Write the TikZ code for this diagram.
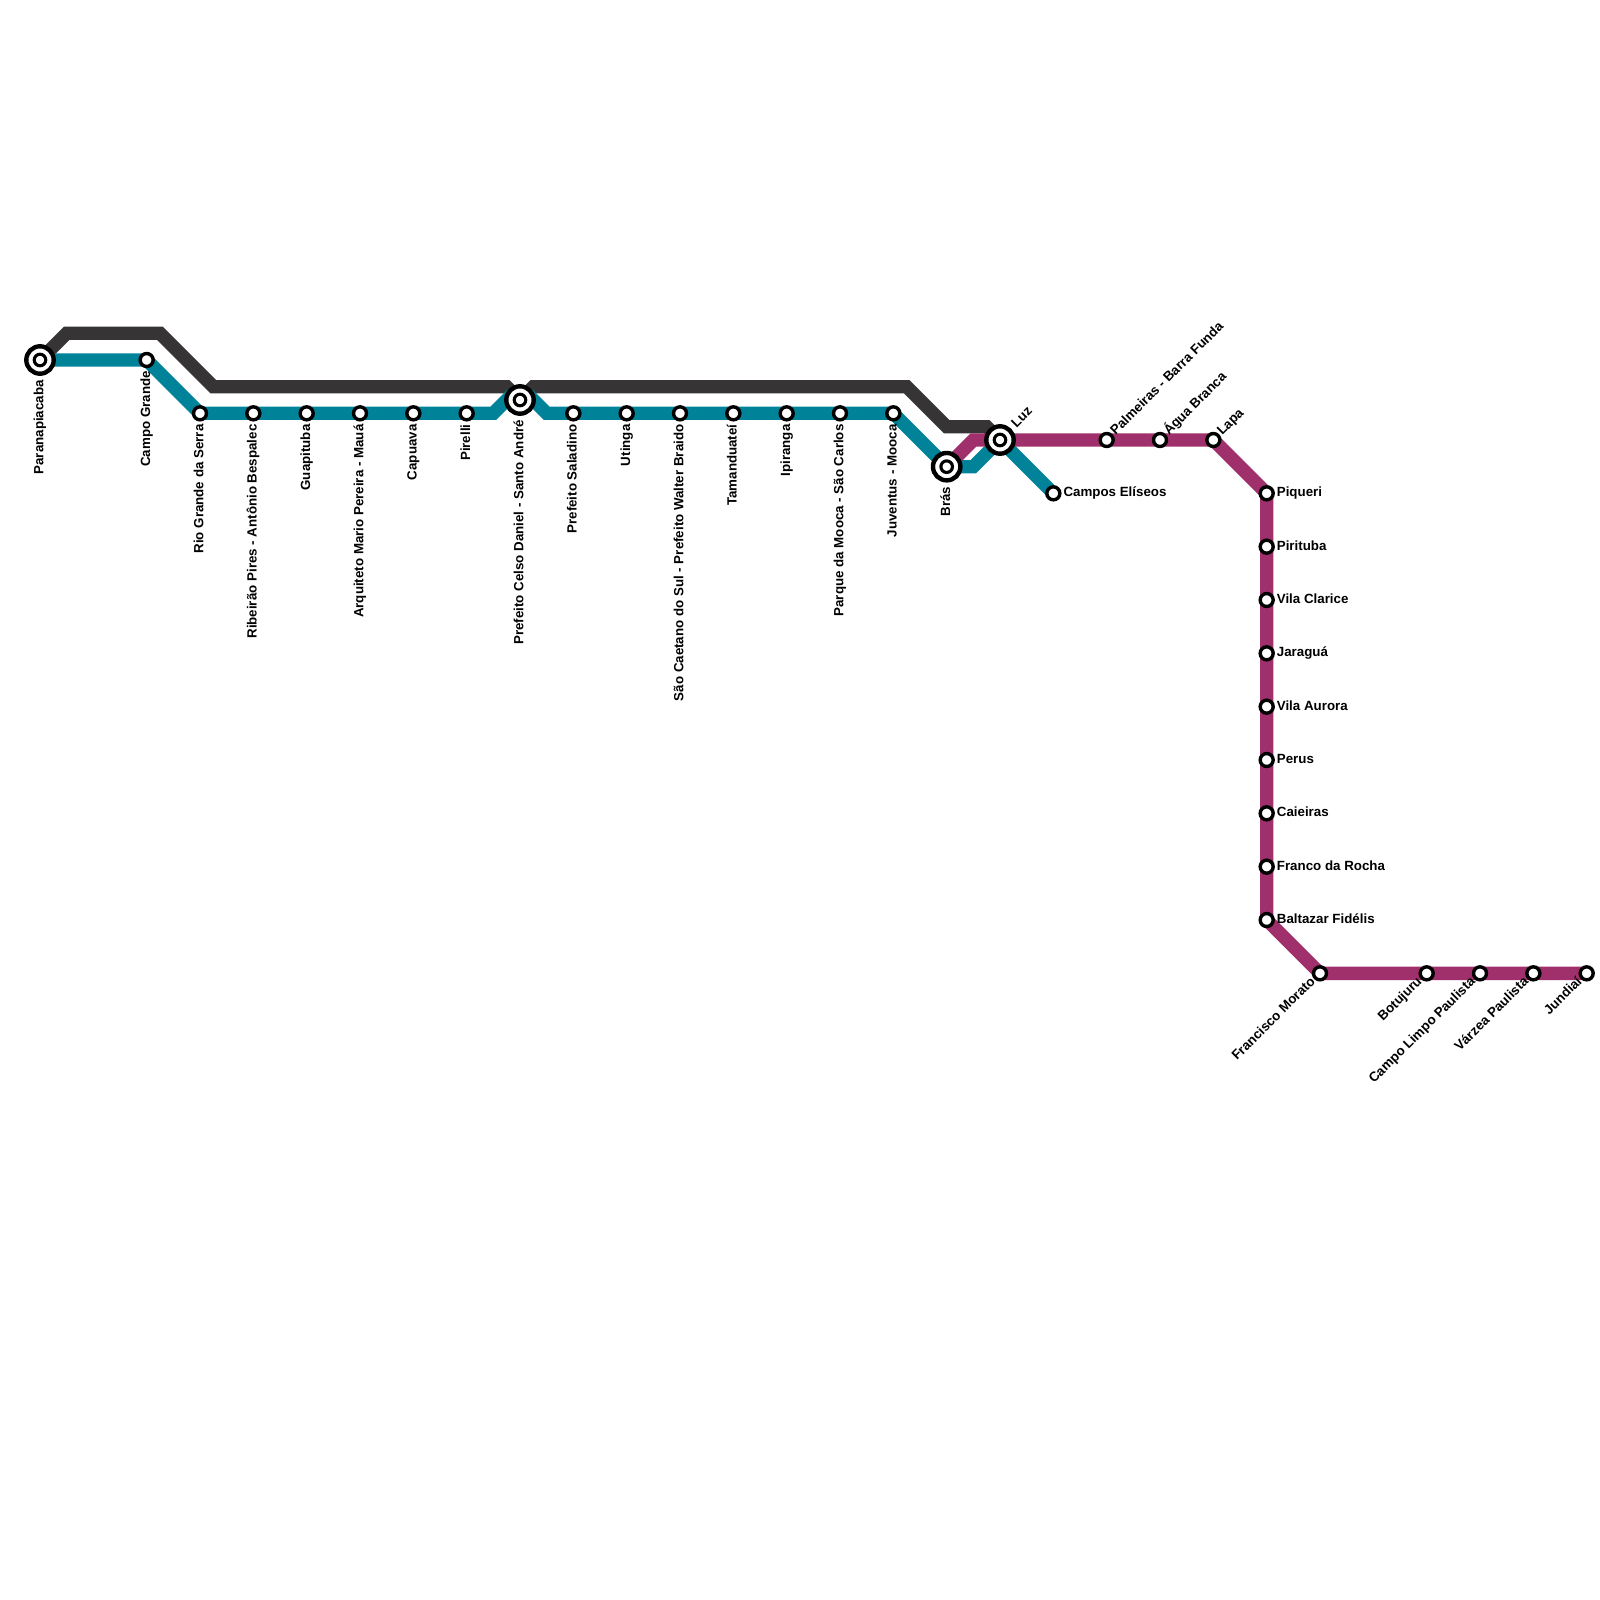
\documentclass[tikz,border=0pt]{standalone}
\usepackage{fontspec}
\setmainfont{Liberation Sans}
\pgfdeclarelayer{lines}
\pgfsetlayers{lines,main}
\definecolor{darkline}{HTML}{373435}
\definecolor{tealline}{HTML}{008299}
\definecolor{magline}{HTML}{A0306C}
\tikzset{
  metro/.style={line width=13.33pt,line join=miter,line cap=butt},
  stn/.style={circle,draw=black,fill=white,line width=3.4pt,minimum size=13pt,inner sep=0pt,outer sep=0pt},
  hubin/.style={circle,draw=black,fill=white,line width=3.1pt,minimum size=11.6pt,inner sep=0pt,outer sep=0pt},
  hub/.style={circle,draw=black,fill=white,line width=4.4pt,minimum size=27.4pt,inner sep=0pt,outer sep=0pt},
  lbl/.style={font=\bfseries\fontsize{13.33}{15}\selectfont,inner sep=0pt,text height=9.6pt,text depth=2.8pt,text=black}
}
\newcommand{\stnode}[3]{\node[stn] (#1) at (#2,#3) {};}
\newcommand{\hubnode}[3]{\node[hub] (#1h) at (#2,#3) {}; \node[hubin] (#1) at (#2,#3) {};}
\newcommand{\lblS}[3][11]{\node[lbl,rotate=90,anchor=east] (#2t) at ([yshift=-#1pt]#2.center) {#3};}
\newcommand{\lblE}[2]{\node[lbl,anchor=west] (#1t) at ([xshift=10pt]#1.center) {#2};}
\newcommand{\lblNE}[3][6.5]{\node[lbl,rotate=45,anchor=west] (#2t) at ([xshift=#1pt,yshift=#1pt]#2.center) {#3};}
\newcommand{\lblSW}[3][6.5]{\node[lbl,rotate=45,anchor=east] (#2t) at ([xshift=-#1pt,yshift=-#1pt]#2.center) {#3};}
\begin{document}
\begin{tikzpicture}[x=1pt,y=-1pt]
\useasboundingbox (0,0) rectangle (1600,1600);
% stations
\hubnode{para}{40}{360}
\stnode{cgra}{146.67}{360}
\stnode{rgde}{200}{413.33}
\stnode{ribe}{253.33}{413.33}
\stnode{guap}{306.67}{413.33}
\stnode{arqu}{360}{413.33}
\stnode{capu}{413.33}{413.33}
\stnode{pire}{466.67}{413.33}
\hubnode{pcel}{520}{400}
\stnode{psal}{573.33}{413.33}
\stnode{utin}{626.67}{413.33}
\stnode{scsu}{680}{413.33}
\stnode{tama}{733.33}{413.33}
\stnode{ipir}{786.67}{413.33}
\stnode{pmoo}{840}{413.33}
\stnode{juve}{893.33}{413.33}
\hubnode{bras}{946.67}{466.67}
\hubnode{luz}{1000}{440}
\stnode{celi}{1053.33}{493.33}
\stnode{palm}{1106.67}{440}
\stnode{agua}{1160}{440}
\stnode{lapa}{1213.33}{440}
\stnode{piqu}{1266.67}{493.33}
\stnode{piri}{1266.67}{546.67}
\stnode{vcla}{1266.67}{600}
\stnode{jara}{1266.67}{653.33}
\stnode{vaur}{1266.67}{706.67}
\stnode{peru}{1266.67}{760}
\stnode{caie}{1266.67}{813.33}
\stnode{fran}{1266.67}{866.67}
\stnode{balt}{1266.67}{920}
\stnode{fmor}{1320}{973.33}
\stnode{botu}{1426.67}{973.33}
\stnode{clim}{1480}{973.33}
\stnode{vzea}{1533.33}{973.33}
\stnode{jund}{1586.67}{973.33}
% bends
\coordinate (d1) at (66.67,333.33);
\coordinate (d2) at (160,333.33);
\coordinate (d3) at (213.33,386.67);
\coordinate (d4) at (506.67,386.67);
\coordinate (d5) at (533.33,386.67);
\coordinate (d6) at (906.67,386.67);
\coordinate (d7) at (946.67,426.67);
\coordinate (d8) at (986.67,426.67);
\coordinate (t1) at (493.33,413.33);
\coordinate (t2) at (513.33,393.33);
\coordinate (t3) at (526.67,393.33);
\coordinate (t4) at (546.67,413.33);
\coordinate (t5) at (973.33,466.67);
\coordinate (m1) at (973.33,440);
\begin{pgfonlayer}{lines}
\draw[metro,darkline] (para.center) -- (d1) -- (d2) -- (d3) -- (d4) -- (pcel.center) -- (d5) -- (d6) -- (d7) -- (d8) -- (luz.center);
\draw[metro,tealline] (para.center) -- (cgra.center) -- (rgde.center) -- (t1) -- (t2);
\draw[metro,tealline] (t3) -- (t4) -- (juve.center) -- (bras.center) -- (t5) -- (luz.center) -- (celi.center);
\draw[metro,magline] (bras.center) -- (m1) -- (lapa.center) -- (piqu.center) -- (balt.center) -- (fmor.center) -- (jund.center);
\end{pgfonlayer}
% labels
\lblS[20]{para}{Paranapiacaba}
\lblS{cgra}{Campo Grande}
\lblS{rgde}{Rio Grande da Serra}
\lblS{ribe}{Ribeirão Pires - Antônio Bespalec}
\lblS{guap}{Guapituba}
\lblS{arqu}{Arquiteto Mario Pereira - Mauá}
\lblS{capu}{Capuava}
\lblS{pire}{Pirelli}
\lblS[20]{pcel}{Prefeito Celso Daniel - Santo André}
\lblS{psal}{Prefeito Saladino}
\lblS{utin}{Utinga}
\lblS{scsu}{São Caetano do Sul - Prefeito Walter Braido}
\lblS{tama}{Tamanduateí}
\lblS{ipir}{Ipiranga}
\lblS{pmoo}{Parque da Mooca - São Carlos}
\lblS{juve}{Juventus - Mooca}
\lblS[20]{bras}{Brás}
\lblNE[14]{luz}{Luz}
\lblE{celi}{Campos Elíseos}
\lblNE{palm}{Palmeiras - Barra Funda}
\lblNE{agua}{Água Branca}
\lblNE{lapa}{Lapa}
\lblE{piqu}{Piqueri}
\lblE{piri}{Pirituba}
\lblE{vcla}{Vila Clarice}
\lblE{jara}{Jaraguá}
\lblE{vaur}{Vila Aurora}
\lblE{peru}{Perus}
\lblE{caie}{Caieiras}
\lblE{fran}{Franco da Rocha}
\lblE{balt}{Baltazar Fidélis}
\lblSW{fmor}{Francisco Morato}
\lblSW{botu}{Botujuru}
\lblSW{clim}{Campo Limpo Paulista}
\lblSW{vzea}{Várzea Paulista}
\lblSW{jund}{Jundiaí}
\end{tikzpicture}
\end{document}
